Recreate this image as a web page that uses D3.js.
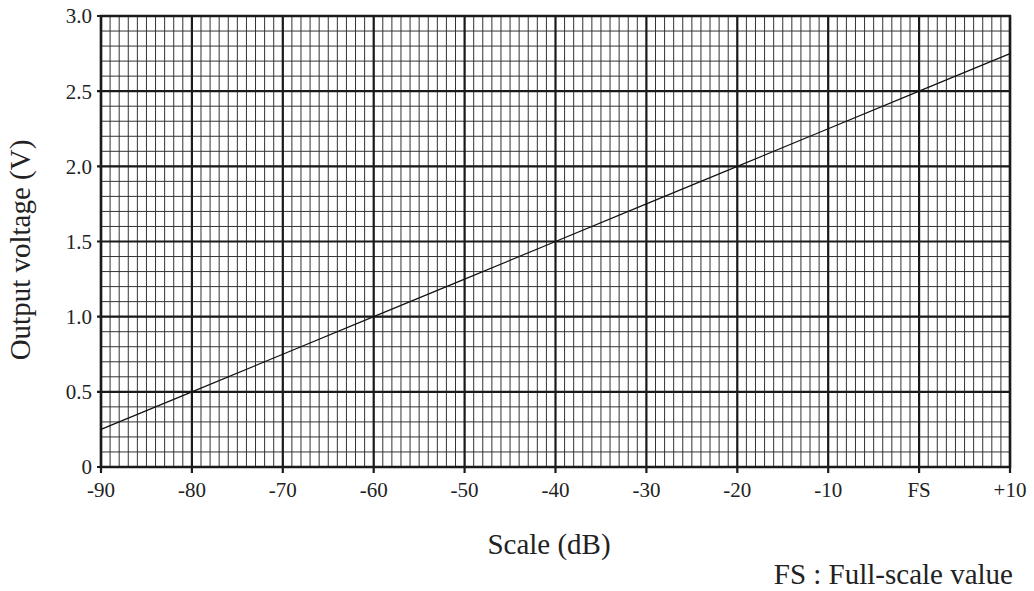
<!DOCTYPE html>
<head>
<meta charset="utf-8">
<script src="https://cdn.jsdelivr.net/npm/d3@7"></script>
<style>
    body { margin: 0; background: #fff; }
    text { font-family: "Liberation Serif", "Times New Roman", serif; fill: #222; }
</style>
</head>
<body>
<div id="chart"></div>
<script>
var width = 1034, height = 591;
var margin = {left: 101, right: 24, top: 16, bottom: 124};

// data
var dbValues = [-90, -80, -70, -60, -50, -40, -30, -20, -10, 0, 10];
var voltValues = [0.25, 0.5, 0.75, 1.0, 1.25, 1.5, 1.75, 2.0, 2.25, 2.5, 2.75];
var xTickLabels = ["-90", "-80", "-70", "-60", "-50", "-40", "-30", "-20", "-10", "FS", "+10"];
var yTicks = [0, 0.5, 1.0, 1.5, 2.0, 2.5, 3.0];
var yTickLabels = ["0", "0.5", "1.0", "1.5", "2.0", "2.5", "3.0"];

var x = d3.scaleLinear().domain([-90, 10]).range([margin.left, width - margin.right]);
var y = d3.scaleLinear().domain([0, 3]).range([height - margin.bottom, margin.top]);

var svg = d3.select("#chart").append("svg")
    .attr("width", width)
    .attr("height", height);

// minor grid
var minorX = d3.range(-90, 10.001, 1);
var minorY = d3.range(0, 3.0001, 0.1);
svg.append("g").selectAll("line").data(minorX).enter().append("line")
    .attr("x1", function(d) { return x(d); }).attr("x2", function(d) { return x(d); })
    .attr("y1", y(0)).attr("y2", y(3))
    .attr("stroke", "#333").attr("stroke-width", 1);
svg.append("g").selectAll("line").data(minorY).enter().append("line")
    .attr("y1", function(d) { return y(d); }).attr("y2", function(d) { return y(d); })
    .attr("x1", x(-90)).attr("x2", x(10))
    .attr("stroke", "#333").attr("stroke-width", 1);

// major grid
svg.append("g").selectAll("line").data(dbValues).enter().append("line")
    .attr("x1", function(d) { return x(d); }).attr("x2", function(d) { return x(d); })
    .attr("y1", y(0) + 6).attr("y2", y(3))
    .attr("stroke", "#1a1a1a").attr("stroke-width", 2.2);
svg.append("g").selectAll("line").data(yTicks).enter().append("line")
    .attr("y1", function(d) { return y(d); }).attr("y2", function(d) { return y(d); })
    .attr("x1", x(-90) - 4).attr("x2", x(10))
    .attr("stroke", "#1a1a1a").attr("stroke-width", 2.2);

// frame
svg.append("rect")
    .attr("x", x(-90)).attr("y", y(3))
    .attr("width", x(10) - x(-90)).attr("height", y(0) - y(3))
    .attr("fill", "none").attr("stroke", "#1a1a1a").attr("stroke-width", 2.5);

// line
var line = d3.line().x(function(d, i) { return x(dbValues[i]); }).y(function(d) { return y(d); });
svg.append("path").datum(voltValues)
    .attr("d", line)
    .attr("fill", "none").attr("stroke", "#111").attr("stroke-width", 1.2);

// tick labels
svg.append("g").selectAll("text").data(dbValues).enter().append("text")
    .attr("x", function(d) { return x(d); })
    .attr("y", 497)
    .attr("text-anchor", "middle")
    .attr("font-size", "21px")
    .text(function(d, i) { return xTickLabels[i]; });
svg.append("g").selectAll("text").data(yTicks).enter().append("text")
    .attr("x", x(-90) - 9)
    .attr("y", function(d) { return y(d); })
    .attr("dy", "0.35em")
    .attr("text-anchor", "end")
    .attr("font-size", "21px")
    .text(function(d, i) { return yTickLabels[i]; });

// titles
svg.append("text")
    .attr("x", 549)
    .attr("y", 554)
    .attr("text-anchor", "middle")
    .attr("font-size", "29px")
    .text("Scale (dB)");
svg.append("text")
    .attr("transform", "translate(30,250) rotate(-90)")
    .attr("text-anchor", "middle")
    .attr("font-size", "29px")
    .text("Output voltage (V)");
svg.append("text")
    .attr("x", 1013)
    .attr("y", 584)
    .attr("text-anchor", "end")
    .attr("font-size", "29px")
    .text("FS : Full-scale value");
</script>
</body>
</html>
